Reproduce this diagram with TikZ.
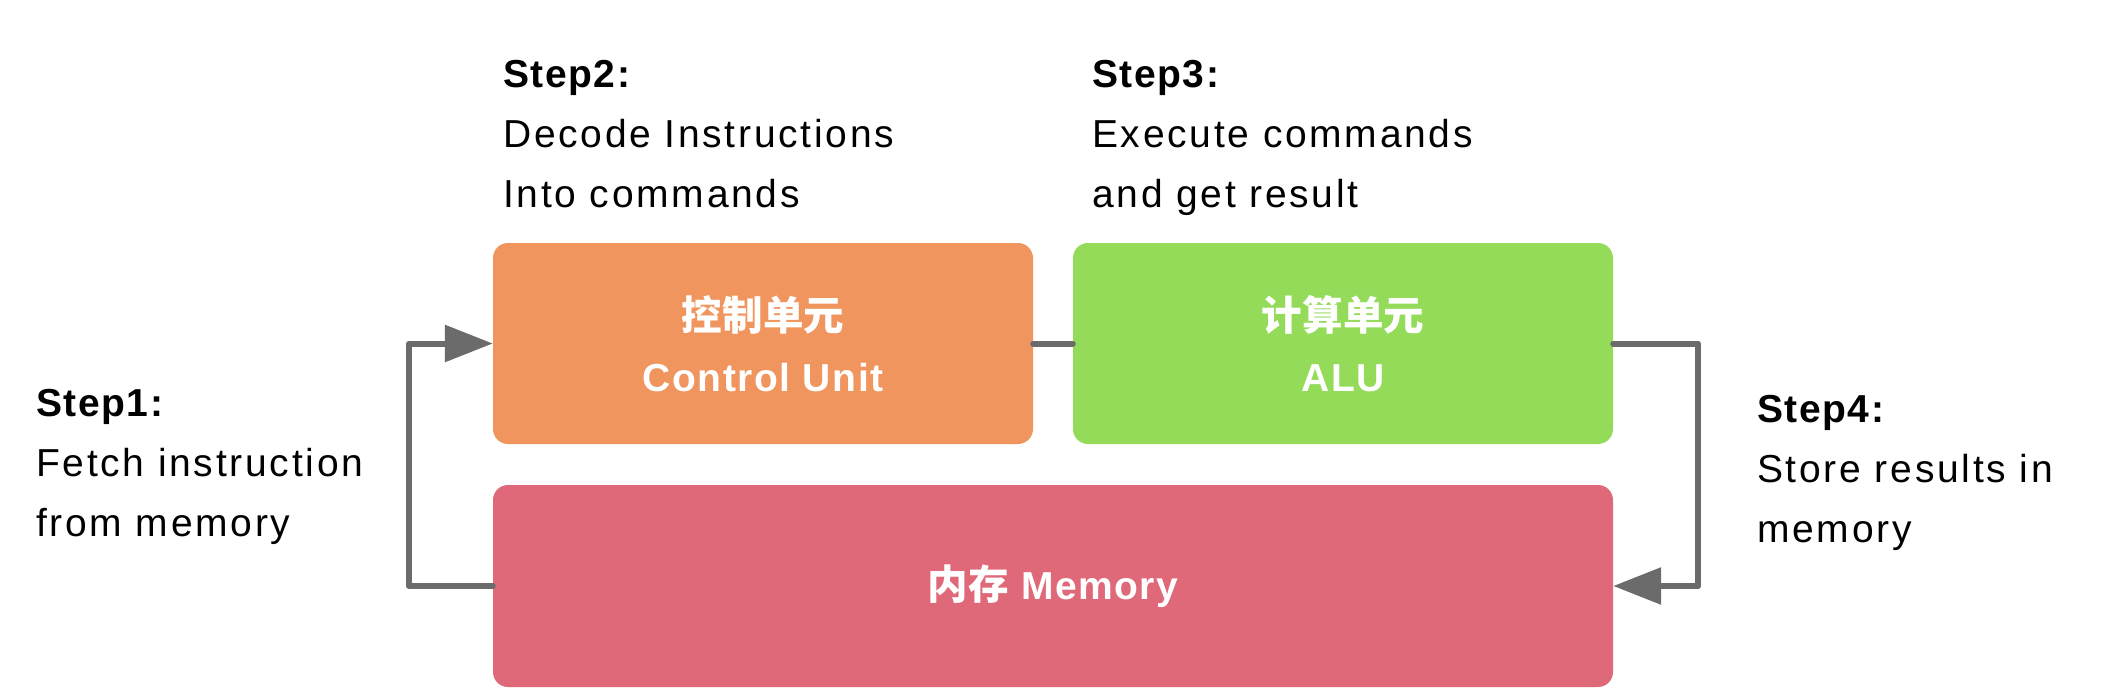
\documentclass[tikz,border=0pt]{standalone}
\usepackage{fontspec}
\setmainfont{Liberation Sans}[LetterSpace=7, BoldFeatures={LetterSpace=4}]
\newfontfamily\cjk{Noto Sans CJK SC}[Scale=1.04]
\usetikzlibrary{arrows.meta}
\definecolor{cuorange}{RGB}{239,149,93}
\definecolor{alugreen}{RGB}{149,219,90}
\definecolor{mempink}{RGB}{224,105,121}
\definecolor{linkgray}{RGB}{107,107,107}

\begin{document}
\begin{tikzpicture}[x=1pt, y=-1pt, line join=round, line cap=round, >={Triangle[length=48pt,width=36pt]},
	unit/.style={rounded corners=15pt, text=white, font=\fontsize{39}{61}\selectfont\bfseries, align=center, inner sep=0pt, minimum height=201pt},
	link/.style={draw=linkgray, line width=6pt},
	steptext/.style={anchor=base west, align=left, inner sep=0pt, font=\fontsize{39}{60}\selectfont}]
	\useasboundingbox (0,0) rectangle (2110,696);
	
	\node[unit, fill=cuorange, minimum width=540pt] (cu) at (763,343.5) {{\cjk 控制单元}\\Control Unit};
	\node[unit, fill=alugreen, minimum width=540pt] (alu) at (1343,343.5) {{\cjk 计算单元}\\ALU};
	\node[unit, fill=mempink, minimum width=1120pt, minimum height=202pt] (mem) at (1053,586) {{\cjk 内存} Memory};
	
	\draw[link, ->] (mem.west) -- ([xshift=-84pt]mem.west) |- (cu.west);
	\draw[link] (cu.east) -- (alu.west);
	\draw[link, ->] (alu.east) -- ([xshift=85pt]alu.east) |- (mem.east);
	
	% base anchor sits on the last line
	\foreach \s/\x/\y/\a/\b in {1/36/536/Fetch instruction/from memory, 2/503/207/Decode Instructions/Into commands, 3/1092/207/Execute commands/and get result, 4/1757/542/Store results in/memory}
	\node[steptext] (step\s) at (\x,\y) {\textbf{Step\s:}\\\a\\\b};
\end{tikzpicture}
\end{document}
